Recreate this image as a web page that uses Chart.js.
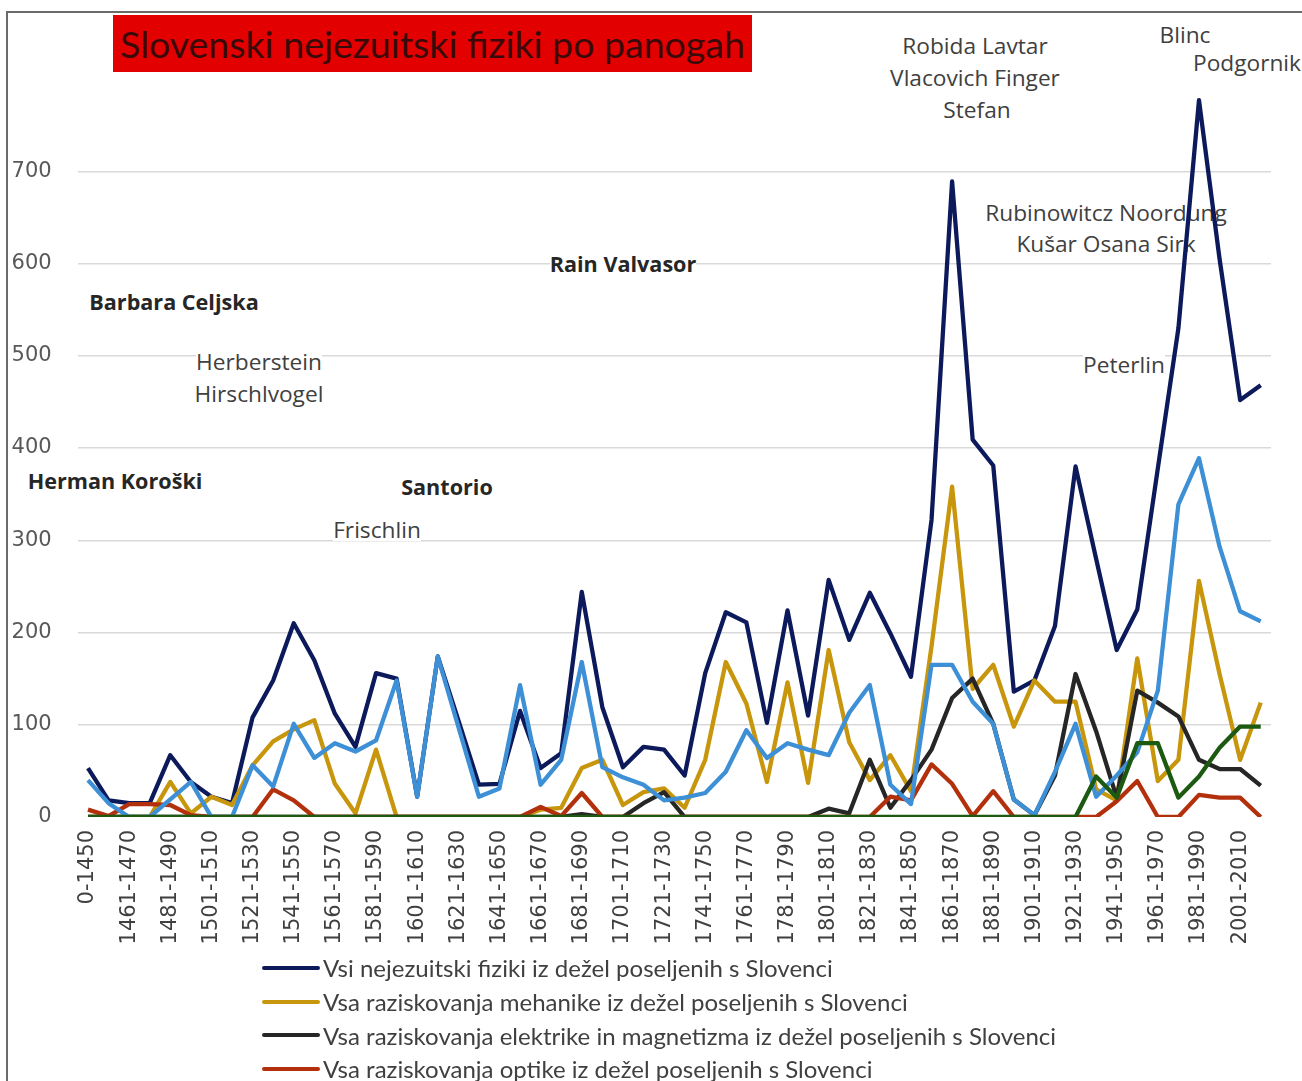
<!DOCTYPE html>
<html>
<head>
<meta charset="utf-8">
<script src="https://cdn.jsdelivr.net/npm/chart.js@4.4.1/dist/chart.umd.min.js"></script>
<style>
    html, body { margin: 0; padding: 0; background: #fff; }
    #wrap { position: relative; width: 1302px; height: 1081px; overflow: hidden; }
    #frame { position: absolute; left: 6px; top: 11px; width: 1400px; height: 1200px;
             border-left: 2px solid #6a6a6a; border-top: 2px solid #6a6a6a; }
    #title { position: absolute; left: 113px; top: 15px; width: 639px; height: 57px; background: #e30000;
             color: #3a0a0a; font-family: Lato, sans-serif; display: flex; align-items: center;
             justify-content: center; white-space: nowrap; }
    .note { position: absolute; transform: translate(-50%, -50%); font-family: 'Open Sans', sans-serif;
            font-size: 22.7px; line-height: 28px; color: #404040; white-space: nowrap; }
    .note.b { font-weight: bold; font-size: 21.6px; color: #262626; }
    #chart { position: absolute; left: 0; top: 0; }
    #legend { position: absolute; left: 262px; top: 951px; font-family: Lato, sans-serif; color: #404040; }
    .legend-item { display: flex; align-items: center; height: 33.7px; white-space: nowrap; }
    .legend-item .swatch { width: 58px; height: 4px; margin-right: 3px; border-radius: 2px; }
</style>
</head>
<body>
<div id="wrap">
    <div id="frame"></div>
    <div id="title">Slovenski nejezuitski fiziki po panogah</div>
    <div id="notes"></div>
    <canvas id="chart" width="1302" height="1081"></canvas>
    <div id="legend"></div>
</div>
<script>
// kategorije (desetletja)
const periods = ['0-1450', '1451-1460', '1461-1470', '1471-1480', '1481-1490', '1491-1500', '1501-1510', '1511-1520',
    '1521-1530', '1531-1540', '1541-1550', '1551-1560', '1561-1570', '1571-1580', '1581-1590', '1591-1600',
    '1601-1610', '1611-1620', '1621-1630', '1631-1640', '1641-1650', '1651-1660', '1661-1670', '1671-1680',
    '1681-1690', '1691-1700', '1701-1710', '1711-1720', '1721-1730', '1731-1740', '1741-1750', '1751-1760',
    '1761-1770', '1771-1780', '1781-1790', '1791-1800', '1801-1810', '1811-1820', '1821-1830', '1831-1840',
    '1841-1850', '1851-1860', '1861-1870', '1871-1880', '1881-1890', '1891-1900', '1901-1910', '1911-1920',
    '1921-1930', '1931-1940', '1941-1950', '1951-1960', '1961-1970', '1971-1980', '1981-1990', '1991-2000',
    '2001-2010', '2011-2020'];

// vrednosti serij
const allPhysicists = [53, 18, 15, 15, 67, 38, 22, 15, 108, 148, 210, 170, 112, 76, 156, 150, 22, 174, 105, 35,
    36, 115, 53, 69, 244, 119, 54, 76, 73, 45, 156, 222, 211, 102, 224, 110, 257, 192, 243, 199,
    152, 322, 689, 409, 381, 136, 148, 207, 380, 280, 181, 225, 378, 530, 777, 605, 452, 468];
const mechanics = [0, 0, 0, 0, 38, 4, 22, 13, 56, 82, 95, 105, 36, 4, 73, 0, 0, 0, 0, 0,
    0, 0, 8, 10, 53, 62, 13, 27, 31, 10, 62, 168, 123, 38, 146, 37, 181, 81, 40, 67,
    28, 185, 358, 139, 165, 98, 148, 125, 125, 30, 18, 172, 39, 62, 256, 155, 62, 124];
const elecMagnetism = [0, 0, 0, 0, 0, 0, 0, 0, 0, 0, 0, 0, 0, 0, 0, 0, 0, 0, 0, 0,
    0, 0, 0, 0, 3, 0, 0, 15, 27, 0, 0, 0, 0, 0, 0, 0, 9, 4, 62, 10,
    40, 73, 129, 150, 101, 19, 2, 45, 155, 93, 21, 137, 124, 109, 62, 52, 52, 34];
const optics = [8, 1, 14, 14, 13, 2, 0, 0, 0, 30, 18, 0, 0, 0, 0, 0, 0, 0, 0, 0,
    0, 0, 11, 1, 26, 0, 0, 0, 0, 0, 0, 0, 0, 0, 0, 0, 0, 0, 0, 22,
    18, 57, 36, 1, 28, 0, 0, 0, 0, 0, 17, 39, 0, 0, 24, 21, 21, 0];
const series5 = [40, 15, 0, 0, 19, 38, 0, 0, 56, 33, 101, 64, 80, 71, 83, 148, 22, 174, 98, 22,
    31, 143, 35, 62, 168, 54, 43, 35, 18, 21, 26, 49, 94, 64, 80, 73, 67, 113, 143, 35,
    14, 165, 165, 125, 101, 19, 2, 49, 101, 22, 45, 70, 137, 339, 389, 293, 223, 212];
const series6 = [0, 0, 0, 0, 0, 0, 0, 0, 0, 0, 0, 0, 0, 0, 0, 0, 0, 0, 0, 0,
    0, 0, 0, 0, 0, 0, 0, 0, 0, 0, 0, 0, 0, 0, 0, 0, 0, 0, 0, 0,
    0, 0, 0, 0, 0, 0, 0, 0, 0, 44, 21, 80, 80, 21, 44, 75, 98, 98];

// os y
const yTicks = [0, 100, 200, 300, 400, 500, 600, 700];

// imena fizikov na grafu: besedilo, sredina x, sredina y, krepko
const notes = [
    ['Robida Lavtar', 975, 46, false],
    ['Vlacovich Finger', 975, 78, false],
    ['Stefan', 977, 110, false],
    ['Blinc', 1185, 35, false],
    ['Podgornik', 1247, 63, false],
    ['Rubinowitcz Noordung', 1106, 213, false],
    ['Kušar Osana Sirk', 1106, 244, false],
    ['Peterlin', 1124, 365, false],
    ['Rain Valvasor', 623, 264, true],
    ['Barbara Celjska', 174, 302, true],
    ['Herberstein', 259, 362, false],
    ['Hirschlvogel', 259, 394, false],
    ['Herman Koroški', 115, 481, true],
    ['Santorio', 447, 487, true],
    ['Frischlin', 377, 530, false]
];

// prilagodi velikost pisave ciljni širini
function fitSize(text, family, weight, target) {
    const c = document.createElement('canvas').getContext('2d');
    c.font = `${weight} 100px ${family}`;
    return 100 * target / c.measureText(text).width;
}

document.fonts.ready.then(() => {
    const titleEl = document.getElementById('title');
    titleEl.style.fontSize = fitSize(titleEl.textContent, 'Lato', 'normal', 625) + 'px';

    const notesEl = document.getElementById('notes');
    notesEl.innerHTML = notes.map(n =>
        `<div class="note${n[3] ? ' b' : ''}" style="left:${n[1]}px;top:${n[2]}px">${n[0]}</div>`
    ).join('');

    // pobriše mrežo pod besedilnimi polji (kot bela polja v izvirniku)
    const clearNotes = {
        id: 'clearNotes',
        beforeDatasetsDraw(chart) {
            const cr = chart.canvas.getBoundingClientRect();
            document.querySelectorAll('.note').forEach(el => {
                const r = el.getBoundingClientRect();
                chart.ctx.clearRect(r.left - cr.left, r.top - cr.top + 3, r.width, r.height - 6);
            });
        }
    };

    const chart = new Chart(document.getElementById('chart'), {
        type: 'line',
        data: {
            labels: periods,
            datasets: [
                { label: 'Vsi nejezuitski fiziki iz dežel poseljenih s Slovenci', data: allPhysicists, borderColor: '#0c1a5b', order: 6 },
                { label: 'Vsa raziskovanja mehanike iz dežel poseljenih s Slovenci', data: mechanics, borderColor: '#c8960c', order: 5 },
                { label: 'Vsa raziskovanja elektrike in magnetizma iz dežel poseljenih s Slovenci', data: elecMagnetism, borderColor: '#262626', order: 4 },
                { label: 'Vsa raziskovanja optike iz dežel poseljenih s Slovenci', data: optics, borderColor: '#b3300c', order: 3 },
                { label: 'Serija 5', data: series5, borderColor: '#3d8fd6', order: 2 },
                { label: 'Serija 6', data: series6, borderColor: '#1c5a12', order: 1 }
            ]
        },
        options: {
            responsive: false,
            animation: false,
            layout: { padding: { left: 0, top: 79, right: 31, bottom: 134 } },
            elements: {
                point: { radius: 0 },
                line: { borderWidth: 4.3, tension: 0, borderJoinStyle: 'round' }
            },
            plugins: {
                legend: { display: false },
                tooltip: { enabled: false }
            },
            scales: {
                x: {
                    offset: true,
                    grid: { display: false, drawTicks: false },
                    border: { display: false },
                    ticks: {
                        autoSkip: false,
                        minRotation: 90,
                        maxRotation: 90,
                        padding: 13,
                        color: '#404040',
                        font: { family: 'DejaVu Sans', size: 21 },
                        callback: (v, i) => i % 2 === 0 ? periods[i] : ''
                    },
                    afterFit: s => { s.height = 130; }
                },
                y: {
                    min: 0,
                    max: 800,
                    afterBuildTicks: s => { s.ticks = yTicks.map(v => ({ value: v })); },
                    grid: {
                        drawTicks: false,
                        lineWidth: 1.5,
                        color: c => c.tick.value === 0 ? 'rgba(0,0,0,0)' : '#d9d9d9'
                    },
                    border: { display: false },
                    ticks: {
                        padding: 26,
                        color: '#595959',
                        font: { family: 'DejaVu Sans', size: 21 }
                    },
                    afterFit: s => { s.width = 77.7; }
                }
            }
        },
        plugins: [clearNotes]
    });

    // legenda (samo prve štiri serije, kot v izvirniku)
    const shown = chart.data.datasets.slice(0, 4);
    const legendSize = fitSize(shown[0].label, 'Lato', 'normal', 510);
    const legendEl = document.getElementById('legend');
    legendEl.style.fontSize = legendSize + 'px';
    legendEl.innerHTML = shown.map(ds => `
        <div class="legend-item">
            <span class="swatch" style="background:${ds.borderColor}"></span>
            <span>${ds.label}</span>
        </div>
    `).join('');
});
</script>
</body>
</html>
